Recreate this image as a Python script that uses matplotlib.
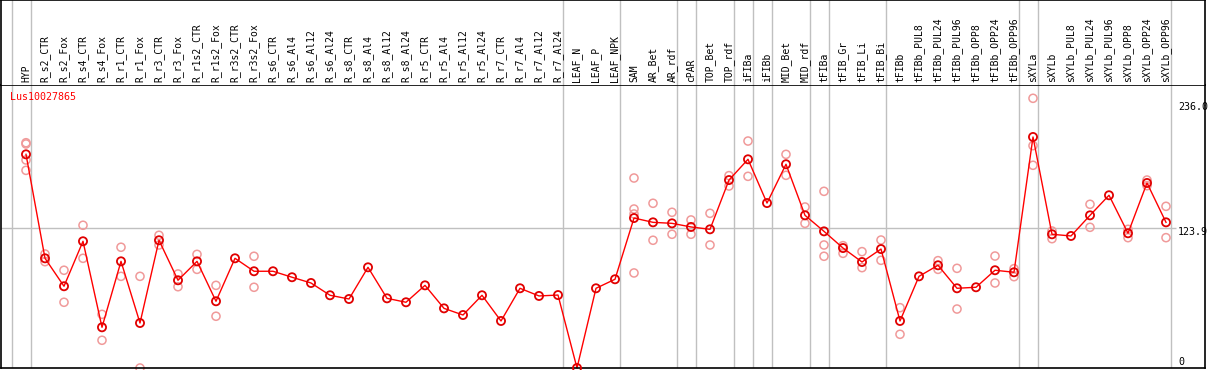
import numpy as np
import matplotlib
matplotlib.use("Agg")
import matplotlib.pyplot as plt

# gene expression profile for one gene across tissues / treatments
gene = "Lus10027865"

samples = ["HYP", "R_s2_CTR", "R_s2_Fox", "R_s4_CTR", "R_s4_Fox", "R_r1_CTR", "R_r1_Fox",
           "R_r3_CTR", "R_r3_Fox", "R_r1s2_CTR", "R_r1s2_Fox", "R_r3s2_CTR", "R_r3s2_Fox",
           "R_s6_CTR", "R_s6_Al4", "R_s6_Al12", "R_s6_Al24", "R_s8_CTR", "R_s8_Al4",
           "R_s8_Al12", "R_s8_Al24", "R_r5_CTR", "R_r5_Al4", "R_r5_Al12", "R_r5_Al24",
           "R_r7_CTR", "R_r7_Al4", "R_r7_Al12", "R_r7_Al24", "LEAF_N", "LEAF_P", "LEAF_NPK",
           "SAM", "AR_Bet", "AR_rdf", "cPAR", "TOP_Bet", "TOP_rdf", "iFIBa", "iFIBb",
           "MID_Bet", "MID_rdf", "tFIBa", "tFIB_Gr", "tFIB_Li", "tFIB_Bi", "tFIBb",
           "tFIBb_PUL8", "tFIBb_PUL24", "tFIBb_PUL96", "tFIBb_OPP8", "tFIBb_OPP24",
           "tFIBb_OPP96", "sXYLa", "sXYLb", "sXYLb_PUL8", "sXYLb_PUL24", "sXYLb_PUL96",
           "sXYLb_OPP8", "sXYLb_OPP24", "sXYLb_OPP96"]

# mean expression per sample
means = [189.5, 97.3, 72.5, 112.4, 36.1, 94.6, 39.9, 113.3, 77.8, 94.6, 59.2, 97.3, 85.8,
         85.8, 80.5, 75.4, 64.5, 61.2, 89.3, 61.8, 58.3, 73.3, 52.9, 47.0, 64.5, 41.7,
         70.7, 63.9, 64.7, 0.0, 70.7, 78.7,
         133.0, 129.2, 128.3, 125.1, 123.0, 166.7, 185.1, 146.3, 180.7, 135.4, 121.2,
         106.4, 94.0, 105.5, 41.7, 81.3, 91.1, 70.7, 71.6, 86.7, 84.9,
         204.9, 118.6, 117.1, 135.4, 153.2, 119.5, 164.1, 129.2]

# individual replicates (sample index, value)
rep_idx = [0, 0, 0, 0, 1, 1, 2, 2, 3, 3, 4, 4, 5, 5, 6, 6, 7, 7, 8, 8, 9, 9, 10, 10, 12, 12,
           32, 32, 32, 32, 33, 33, 34, 34, 35, 35, 36, 36, 37, 37, 38, 38, 40, 40, 41, 41,
           42, 42, 42, 43, 43, 44, 44, 45, 45, 46, 46, 48, 48, 49, 49, 51, 51, 52, 52,
           53, 53, 53, 54, 54, 56, 56, 58, 58, 59, 59, 60, 60]
rep_val = [199.8, 198.7, 184.5, 175.3, 101.1, 94.3, 86.7, 58.3, 126.6, 97.3, 47.6, 24.6,
           107.1, 81.3, 81.3, 0.0, 117.7, 109.1, 83.4, 72.1, 100.8, 87.5, 73.3, 45.9,
           99.1, 71.6,
           168.5, 141.0, 136.6, 84.3, 146.1, 113.3, 138.1, 118.6, 131.3, 118.6, 137.2, 109.1,
           170.6, 161.4, 201.3, 170.0, 189.5, 170.9, 142.8, 128.3,
           156.7, 109.1, 99.1, 108.5, 101.7, 103.2, 89.0, 113.5, 95.5, 53.5, 29.9,
           95.2, 87.5, 88.4, 52.3, 99.3, 75.4, 88.1, 81.0,
           239.2, 197.2, 179.8, 121.5, 114.7, 145.2, 124.8, 123.0, 115.6, 166.7, 161.7,
           143.4, 115.6]

# last sample index of each group (gray separators)
group_ends = [-1, 0, 28, 31, 34, 35, 37, 38, 39, 41, 42, 45, 52, 53, 60]

y_max = 236.0
y_mid = 123.9

W, H = 1209, 370
fig = plt.figure(figsize=(W / 100, H / 100), dpi=100)

# pixel layout: columns at 26 + 19*i, value 0 at y=368, 1.1275 px per unit
left_px, right_px, top_px, mid_px, bot_px = 1, 1205, 0, 85, 368
step, x0px, ppu = 19.0, 26.0, 1.1275
xlo = (left_px - x0px) / step
xhi = (right_px - x0px) / step

ax = fig.add_axes([left_px / W, (H - bot_px) / H, (right_px - left_px) / W, (bot_px - mid_px) / H])
hx = fig.add_axes([left_px / W, (H - mid_px) / H, (right_px - left_px) / W, (mid_px - top_px) / H])

mono = "DejaVu Sans Mono"
gray = "#c0c0c0"

for a in (ax, hx):
    a.set_xlim(xlo, xhi)
    a.set_xticks([])
    a.set_yticks([])
    for s in a.spines.values():
        s.set_color("black")
        s.set_linewidth(1.2)
    for g in group_ends:
        a.axvline(g + 4.5 / step, color=gray, lw=1, zorder=0)

ax.set_ylim(0, (bot_px - mid_px) / ppu)
hx.set_ylim(0, 1)
hx.spines["bottom"].set_visible(False)

# horizontal midline
ax.hlines(y_mid, xlo, (1176 - x0px) / step, color=gray, lw=1, zorder=0)

x = np.arange(len(samples))
ax.plot(x, means, color="red", lw=1, zorder=2, clip_on=False)
ax.scatter(rep_idx, rep_val, s=34, facecolors="none", edgecolors="#f09a9a",
           linewidths=1.1, zorder=1, clip_on=False)
ax.scatter(x, means, s=34, facecolors="none", edgecolors="#e00000",
           linewidths=1.3, zorder=3, clip_on=False)

for i, name in enumerate(samples):
    hx.text(i, 0.04, name, rotation=90, ha="center", va="bottom",
            fontsize=7, family=mono, color="black")

# gene name, top-left of the plot area
ax.text((10 - x0px) / step, 1 - 12 / (bot_px - mid_px), gene,
        transform=ax.get_xaxis_transform(),
        color="red", fontsize=7.2, family=mono, ha="left", va="center")

lab_x = (1178 - x0px) / step
ax.text(lab_x, (bot_px - 107.3) / ppu, "%.1f" % y_max, fontsize=7.2, family=mono, va="center")
ax.text(lab_x, (bot_px - 232.3) / ppu, "%.1f" % y_mid, fontsize=7.2, family=mono, va="center")
ax.text(lab_x, (bot_px - 362) / ppu, "0", fontsize=7.2, family=mono, va="center")

fig.savefig("out.png", dpi=100)
